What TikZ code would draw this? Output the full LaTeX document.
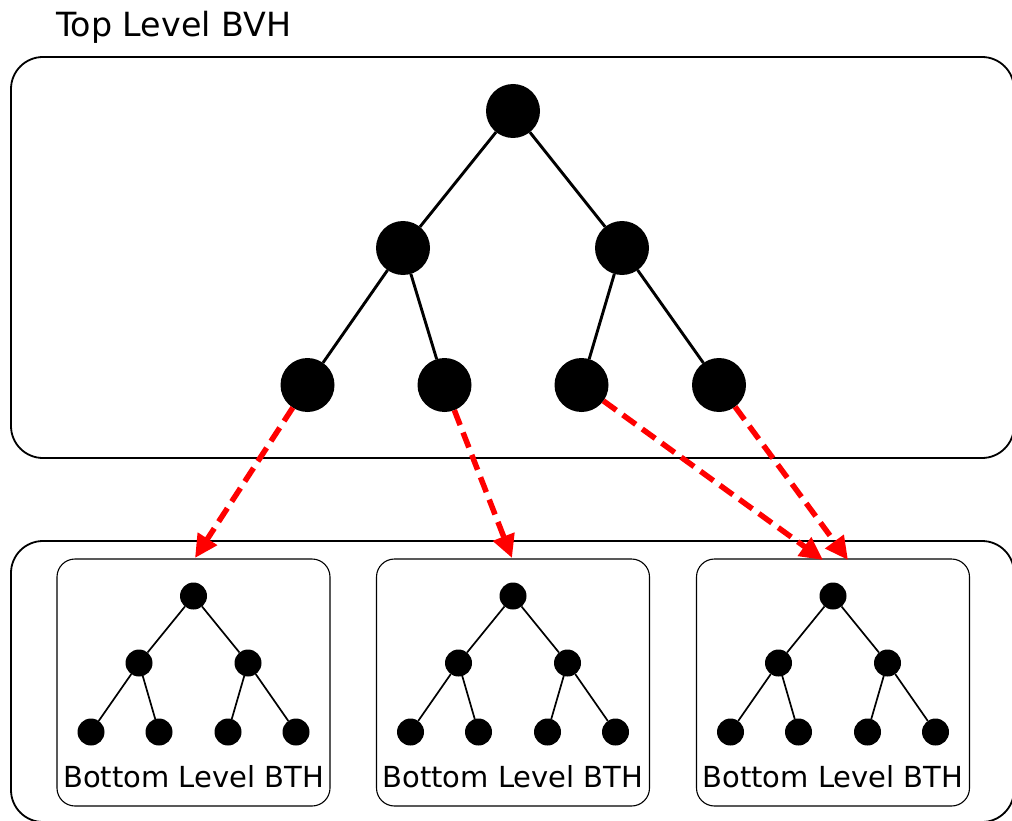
\documentclass[tikz,border=0pt]{standalone}
\usepackage{fontspec}
\setmainfont{DejaVu Sans}
\usetikzlibrary{arrows.meta}
\tikzset{
  bignode/.style={circle,fill=black,minimum size=54pt,inner sep=0pt,outer sep=0pt},
  smallnode/.style={circle,fill=black,minimum size=27pt,inner sep=0pt,outer sep=0pt},
  bigedge/.style={line width=2.9pt},
  smalledge/.style={line width=1.7pt},
  link/.style={red,line width=5.5pt,dash pattern=on 16pt off 8pt,
    -{Triangle[length=23pt,width=22pt]}},
  outerbox/.style={draw,line width=1.8pt,rounded corners=32pt,inner sep=0pt},
  innerbox/.style={draw,line width=1.1pt,rounded corners=18pt,
    minimum width=273pt,minimum height=247pt,inner sep=0pt},
  title/.style={inner sep=0pt,font=\fontsize{33.3}{40}\selectfont},
  label/.style={inner sep=0pt,font=\fontsize{29}{35}\selectfont},
}
\begin{document}
\begin{tikzpicture}[x=1pt,y=-1pt]
\useasboundingbox (0,0) rectangle (1012,821);
\clip (0,0) rectangle (1012,821);

% containers
\node[outerbox,minimum width=1003pt,minimum height=401pt] (top) at (512.5,257.5) {};
\node[outerbox,minimum width=1003pt,minimum height=281pt] (bottom) at (512.5,681.5) {};
\node[title,anchor=base west] (toptitle) at (56,37) {Top Level BVH};

% top level tree
\node[bignode] (t0) at (513,111) {};
\node[bignode] (t1) at (403,248) {};
\node[bignode] (t2) at (622,248) {};
\node[bignode] (t3) at (307.5,385) {};
\node[bignode] (t4) at (444.5,385) {};
\node[bignode] (t5) at (581.5,385) {};
\node[bignode] (t6) at (719,385) {};
\draw[bigedge] (t0) -- (t1);
\draw[bigedge] (t0) -- (t2);
\draw[bigedge] (t1) -- (t3);
\draw[bigedge] (t1) -- (t4);
\draw[bigedge] (t2) -- (t5);
\draw[bigedge] (t2) -- (t6);

% bottom level trees
\foreach \i/\cx in {1/193.5,2/513,3/833} {
  \node[innerbox] (box\i) at (\cx,682.5) {};
  \node[smallnode] (b\i r) at (\cx,596) {};
  \node[smallnode] (b\i a) at (\cx-54.5,663) {};
  \node[smallnode] (b\i b) at (\cx+54.5,663) {};
  \node[smallnode] (b\i c) at (\cx-102.5,732) {};
  \node[smallnode] (b\i d) at (\cx-34.5,732) {};
  \node[smallnode] (b\i e) at (\cx+34.5,732) {};
  \node[smallnode] (b\i f) at (\cx+102.5,732) {};
  \draw[smalledge] (b\i r) -- (b\i a);
  \draw[smalledge] (b\i r) -- (b\i b);
  \draw[smalledge] (b\i a) -- (b\i c);
  \draw[smalledge] (b\i a) -- (b\i d);
  \draw[smalledge] (b\i b) -- (b\i e);
  \draw[smalledge] (b\i b) -- (b\i f);
  \node[label,anchor=base] (lbl\i) at (\cx,787) {Bottom Level BTH};
}

% instance links
\coordinate (p1) at (195,558);
\coordinate (p2) at (512,558);
\coordinate (p3) at (823,560);
\coordinate (p4) at (848,560);
\draw[link] (t3) -- (p1);
\draw[link] (t4) -- (p2);
\draw[link] (t5) -- (p3);
\draw[link] (t6) -- (p4);
\end{tikzpicture}
\end{document}
